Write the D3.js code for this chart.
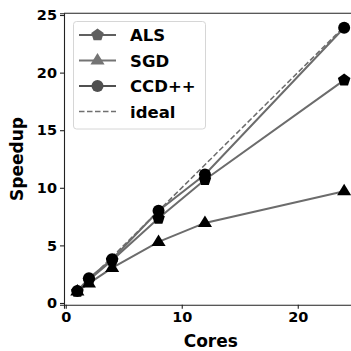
<!DOCTYPE html>
<html>
<head>
<meta charset="utf-8">
<script src="https://cdn.jsdelivr.net/npm/d3@7"></script>
<style>
  html, body { margin: 0; padding: 0; background: #fff; }
  svg { display: block; }
</style>
</head>
<body>
<svg id="chart"></svg>
<script>
// data
const cores = [1, 2, 4, 8, 12, 24];
const als = [1, 2.0, 3.7, 7.35, 10.7, 19.35];
const sgd = [1, 1.7, 3.05, 5.3, 6.95, 9.7];
const ccd = [1.05, 2.15, 3.8, 8.0, 11.15, 23.9];
const ideal = [1, 2, 4, 8, 12, 24];
const xTicks = [0, 10, 20];
const yTicks = [0, 5, 10, 15, 20, 25];

const fontFamily = "DejaVu Sans";
const W = 351, H = 351;

const svg = d3.select("#chart").attr("width", W).attr("height", H);

// scales (right side of the plot is cut off in the reference)
const x = d3.scaleLinear().domain([-0.15, 25.15]).range([64, 357.5]);
const y = d3.scaleLinear().domain([-0.15, 25.15]).range([304.7, 13.3]);

const series = [
  { name: "ALS", values: als, marker: "pentagon", legendColor: "#606060" },
  { name: "SGD", values: sgd, marker: "triangle", legendColor: "#747474" },
  { name: "CCD++", values: ccd, marker: "circle", legendColor: "#505050" }
];

function markerPath(type, size) {
  if (type === "circle") return d3.symbol(d3.symbolCircle, size * size * Math.PI / 4)();
  if (type === "triangle") {
    const r = size * 0.62;
    return `M0,${-r}L${r * 0.95},${r * 0.55}L${-r * 0.95},${r * 0.55}Z`;
  }
  // pentagon
  const r = size * 0.55;
  let pts = [];
  for (let i = 0; i < 5; i++) {
    const a = -Math.PI / 2 + i * 2 * Math.PI / 5;
    pts.push([r * Math.cos(a), r * Math.sin(a)]);
  }
  return "M" + pts.map(p => p.join(",")).join("L") + "Z";
}

// axes
const xAxis = d3.axisBottom(x).tickValues(xTicks).tickSize(4).tickPadding(3);
const yAxis = d3.axisLeft(y).tickValues(yTicks).tickSize(4).tickPadding(3);

const gx = svg.append("g").attr("transform", `translate(0, ${y.range()[0]})`).call(xAxis);
const gy = svg.append("g").attr("transform", `translate(${x.range()[0]}, 0)`).call(yAxis);
[gx, gy].forEach(g => {
  g.selectAll("text")
    .attr("font-family", fontFamily)
    .attr("font-size", 14.5)
    .attr("font-weight", "bold")
    .attr("fill", "#000");
  g.selectAll("path, line").attr("stroke", "#222").attr("stroke-width", 1.1);
});
// top spine
svg.append("line")
  .attr("x1", x.range()[0]).attr("x2", W)
  .attr("y1", y.range()[1]).attr("y2", y.range()[1])
  .attr("stroke", "#222").attr("stroke-width", 1.1);

// axis labels
svg.append("text")
  .text("Cores")
  .attr("x", x(12.5)).attr("y", 347)
  .attr("text-anchor", "middle")
  .attr("font-family", fontFamily).attr("font-size", 17).attr("font-weight", "bold");
svg.append("text")
  .text("Speedup")
  .attr("transform", `translate(23, ${y(12.5)}) rotate(-90)`)
  .attr("text-anchor", "middle")
  .attr("font-family", fontFamily).attr("font-size", 17).attr("font-weight", "bold");

const line = d3.line().x((d, i) => x(cores[i])).y(d => y(d));

// series lines and markers
series.forEach(s => {
  svg.append("path")
    .attr("d", line(s.values))
    .attr("fill", "none")
    .attr("stroke", "#6c6c6c")
    .attr("stroke-width", 2);
});
svg.append("path")
  .attr("d", line(ideal))
  .attr("fill", "none")
  .attr("stroke", "#6c6c6c")
  .attr("stroke-width", 1.5)
  .attr("stroke-dasharray", "5.5,2.5");

series.forEach(s => {
  svg.append("g").selectAll("path")
    .data(s.values)
    .enter()
    .append("path")
    .attr("transform", (d, i) => `translate(${x(cores[i])}, ${y(d)})`)
    .attr("d", markerPath(s.marker, 12))
    .attr("fill", "#000");
});

// legend
const lg = svg.append("g");
lg.append("rect")
  .attr("x", 73.5).attr("y", 21.5).attr("width", 132).attr("height", 107.5)
  .attr("rx", 3)
  .attr("fill", "#fff").attr("fill-opacity", 0.85)
  .attr("stroke", "#d6d6d6").attr("stroke-width", 1);
const legendRows = series.concat([{ name: "ideal", dashed: true, legendColor: "#707070" }]);
legendRows.forEach((s, i) => {
  const cy = 35 + i * 25.5;
  lg.append("line")
    .attr("x1", 79).attr("x2", 116).attr("y1", cy).attr("y2", cy)
    .attr("stroke", s.legendColor)
    .attr("stroke-width", s.dashed ? 1.5 : 2)
    .attr("stroke-dasharray", s.dashed ? "5.5,2.5" : null);
  if (!s.dashed) {
    lg.append("path")
      .attr("transform", `translate(97.5, ${cy})`)
      .attr("d", markerPath(s.marker, 12))
      .attr("fill", s.legendColor);
  }
  lg.append("text")
    .text(s.name)
    .attr("x", 130).attr("y", cy + 6)
    .attr("font-family", fontFamily).attr("font-size", 16.5).attr("font-weight", "bold")
    .attr("fill", "#000");
});
</script>
</body>
</html>
